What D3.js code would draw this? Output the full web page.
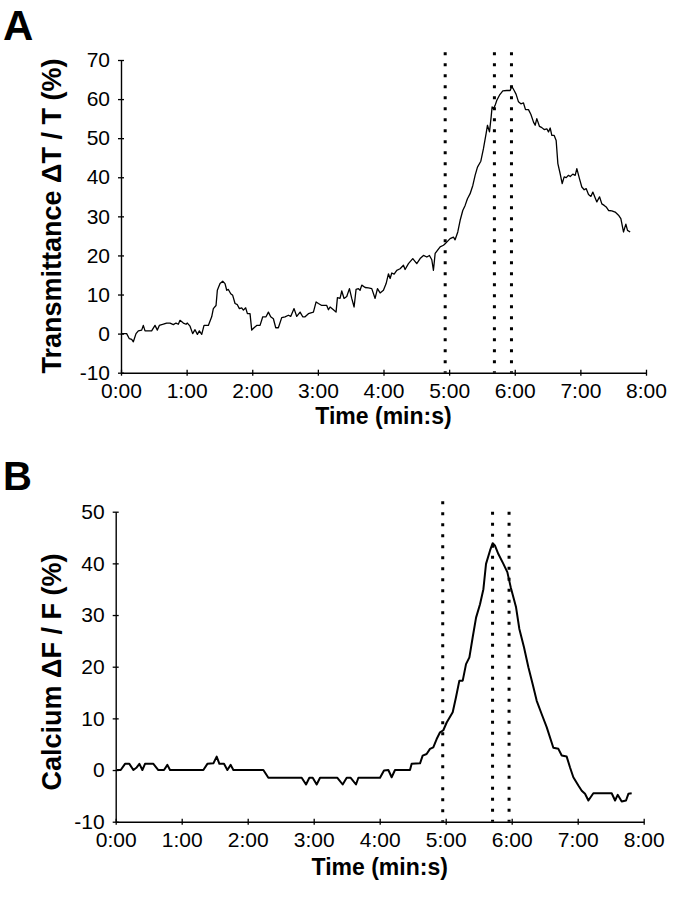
<!DOCTYPE html>
<html><head><meta charset="utf-8">
<script src="https://cdn.jsdelivr.net/npm/d3@7"></script>
<style>
body{margin:0;background:#fff}
svg{display:block}
</style>
</head><body>
<svg id="c" width="677" height="899"></svg>
<script>
// ---------- data ----------
const xTickValues = [0,1,2,3,4,5,6,7,8];
const xTickLabels = ["0:00","1:00","2:00","3:00","4:00","5:00","6:00","7:00","8:00"];
const yTicksA = [-10,0,10,20,30,40,50,60,70];
const yTicksB = [-10,0,10,20,30,40,50];

// Panel A: time (min) and transmittance (%)
const timeA = [0,0.086,0.127,0.163,0.188,0.229,0.264,0.315,0.340,0.366,0.467,0.518,0.554,0.584,0.645,0.696,0.747,0.798,0.838,0.874,0.899,0.950,0.991,1.011,1.052,1.092,1.128,1.164,1.194,1.230,1.265,1.331,1.382,1.407,1.448,1.468,1.509,1.550,1.585,1.611,1.636,1.672,1.702,1.738,1.773,1.804,1.839,1.865,1.900,1.926,1.966,1.992,2.027,2.068,2.119,2.160,2.210,2.246,2.281,2.322,2.358,2.398,2.449,2.500,2.551,2.586,2.637,2.678,2.729,2.769,2.805,2.856,2.932,2.973,3.008,3.059,3.135,3.161,3.186,3.237,3.277,3.298,3.338,3.364,3.399,3.440,3.481,3.516,3.552,3.582,3.618,3.643,3.669,3.720,3.770,3.821,3.872,3.908,
3.948,3.999,4.040,4.075,4.101,4.126,4.162,4.202,4.253,4.304,4.329,4.380,4.446,4.507,4.558,4.609,4.660,4.700,4.736,4.761,4.787,4.822,4.863,4.914,4.939,4.964,5.015,5.066,5.091,5.132,5.168,5.208,5.244,5.279,5.320,5.361,5.396,5.432,5.483,5.523,5.564,5.584,5.615,5.640,5.655,5.676,5.701,5.727,5.767,5.818,5.879,5.930,5.955,5.991,6.021,6.057,6.093,6.133,6.164,6.209,6.245,6.286,6.311,6.336,6.377,6.413,6.448,6.489,6.514,6.540,6.565,6.601,6.631,6.657,6.692,6.723,6.753,6.784,6.819,6.845,6.885,6.921,6.946,6.987,7.022,7.058,7.088,7.124,7.160,7.190,7.226,7.251,7.292,7.327,7.363,7.393,7.429,7.480,7.530,7.581,7.617,7.657,7.693,7.718,7.759];
const transA = [0,0,-1.3,-1.5,-2.1,0,0.7,0.9,2.1,0.7,0.7,2.1,0.9,2.1,2.4,2.7,2.7,2.3,2.7,2.4,3.4,2.7,2.4,2.7,1.9,0,1.0,-0.2,0.7,-0.2,2.1,2.1,4.3,6.4,7.2,11.1,12.8,13.4,12.8,11.1,11.3,10.2,9.8,7.7,7.4,6.4,6.6,6.0,6.6,5.1,5.1,0.9,1.5,2.1,2.1,4.3,4.3,5.5,4.3,3.8,1.5,1.5,4.1,4.3,4.7,4.4,6.4,4.4,5.5,4.3,4.3,5.1,5.5,8.1,7.7,7.2,7.2,6.1,6.8,6.1,5.5,9.2,9.0,10.9,9.0,9.5,11.5,9.0,6.8,11.3,11.5,11.1,12.4,11.8,11.7,11.5,9.0,11.5,
10.4,11.1,12.8,15.3,14.1,15.5,15.2,16.2,16.6,17.5,16.4,17.9,19.2,17.9,19.2,20.0,19.6,20.0,18.9,16.2,20.5,21.3,22.2,22.6,23.0,23.4,24.3,24.7,24.0,26.0,29.0,31.5,32.8,34.5,35.8,37.9,40.5,42.6,44.1,47.3,51.2,53.3,51.6,55.4,58.0,57.5,58.4,59.7,61.0,62.1,62.2,62.2,63.3,62.2,61.2,59.3,58.8,59.0,57.3,57.3,56.1,54.1,53.3,55.0,53.0,52.7,52.2,52.4,51.6,52.6,50.7,50.7,49.4,43.5,40.9,38.4,40.1,39.9,40.5,40.2,40.8,40.5,42.2,39.6,37.5,36.8,37.1,35.6,35.1,36.2,34.7,33.7,35.0,33.2,32.8,32.4,31.5,31.4,31.1,30.3,29.4,26.0,28.0,26.4,26.0];

// Panel B: time (min) and calcium (%)
const timeB = [0.02,0.076,0.141,0.207,0.268,0.318,0.359,0.404,0.444,0.571,0.646,0.732,0.783,0.823,1.328,1.389,1.480,1.530,1.571,1.641,1.692,1.742,1.783,2.237,2.313,2.818,2.884,2.934,2.985,3.045,3.096,3.359,3.439,3.500,3.561,3.641,3.677,4.005,4.065,4.131,4.181,4.232,4.459,4.484,4.611,4.651,4.711,4.762,4.812,4.863,4.914,4.964,5.015,5.106,5.156,5.207,5.258,5.308,5.359,5.409,5.460,5.520,5.571,5.611,5.672,5.712,5.748,5.798,5.874,5.934,5.985,6.066,6.116,6.187,6.253,6.318,6.379,6.455,6.530,6.631,6.707,6.758,6.833,6.884,6.934,7.010,7.061,7.111,7.162,7.237,7.515,7.566,7.606,7.667,7.732,7.768,7.818];
const calciumB = [0,0,1.2,1.2,0,0.5,1.2,0,1.2,1.2,0,0,1.0,0,0,1.2,1.3,2.6,1.2,1.2,0,1.0,0,0,-1.5,-1.5,-2.8,-1.5,-1.5,-2.8,-1.5,-1.5,-2.8,-1.5,-1.5,-2.8,-1.5,-1.5,-0.1,0,-1.4,0,0,1.2,1.3,2.8,3.1,4.1,4.4,6.0,7.3,7.7,9.2,11.2,14.1,17.3,17.3,20.5,21.8,25.7,29.5,32.1,35.0,39.9,42.5,43.9,43.4,41.8,39.9,38.3,35.4,31.5,27.3,23.7,19.9,16.6,13.4,10.8,8.3,4.3,4.1,2.8,2.6,0.5,-1.4,-3.0,-4.0,-4.6,-5.9,-4.5,-4.5,-5.9,-4.8,-6.1,-5.9,-4.6,-4.5];

// dotted marker times (min) and top values
const markersA = [4.94, 5.69, 5.95];
const markerTopA = [72, 72, 72];
const markersB = [4.955, 5.71, 5.96];
const markerTopB = [52, 50, 50];

// ---------- drawing ----------
const FONT = "'Liberation Sans', Arial, Helvetica, sans-serif";
const svg = d3.select("#c");

function panel(cfg) {
  const x = d3.scaleLinear().domain([0, 8]).range([cfg.left, cfg.right]);
  const y = d3.scaleLinear().domain([cfg.ymin, cfg.ymax]).range([cfg.bottom, cfg.top]);
  const g = svg.append("g");

  // y axis
  const ya = g.append("g")
    .attr("transform", `translate(${cfg.left},0)`)
    .call(d3.axisLeft(y).tickValues(cfg.yTicks).tickSize(3).tickSizeOuter(0).tickPadding(8).tickFormat(d => String(d)));
  ya.select(".domain").attr("stroke", "#000").attr("stroke-width", 1.4);
  ya.selectAll(".tick line").attr("x1", 3).attr("stroke", "#000").attr("stroke-width", 1.3);
  ya.selectAll(".tick text").attr("font-family", FONT).attr("font-size", cfg.tickFont).attr("fill", "#000");

  // x axis
  const xa = g.append("g")
    .attr("transform", `translate(0,${cfg.bottom})`)
    .call(d3.axisBottom(x).tickValues(xTickValues).tickSize(3).tickSizeOuter(0).tickPadding(7).tickFormat(i => xTickLabels[i]));
  xa.select(".domain").attr("stroke", "#000").attr("stroke-width", 1.4);
  xa.selectAll(".tick line").attr("y1", -3).attr("stroke", "#000").attr("stroke-width", 1.3);
  xa.selectAll(".tick text").attr("font-family", FONT).attr("font-size", cfg.tickFont).attr("fill", "#000");

  // dotted markers
  g.selectAll("line.marker").data(cfg.markers).enter().append("line")
    .attr("class", "marker")
    .attr("x1", d => x(d)).attr("x2", d => x(d))
    .attr("y1", (d, i) => y(cfg.markerTop[i])).attr("y2", y(cfg.ymin))
    .attr("stroke", "#000").attr("stroke-width", 3)
    .attr("stroke-dasharray", "3,8");

  // trace
  const line = d3.line().x(d => x(d[0])).y(d => y(d[1]));
  g.append("path").datum(d3.zip(cfg.times, cfg.values))
    .attr("d", line).attr("fill", "none").attr("stroke", "#000")
    .attr("stroke-width", cfg.lineWidth).attr("stroke-linejoin", "round");

  // axis titles
  g.append("text").attr("x", (cfg.left + cfg.right) / 2).attr("y", cfg.xTitleY)
    .attr("text-anchor", "middle").attr("font-family", FONT).attr("font-weight", "bold")
    .attr("font-size", 23).text("Time (min:s)");
  g.append("text").attr("transform", `translate(${cfg.yTitleX},${cfg.yTitleY}) rotate(-90)`)
    .attr("text-anchor", "middle").attr("font-family", FONT).attr("font-weight", "bold")
    .attr("font-size", cfg.yTitleFont).text(cfg.yTitle);

  // panel letter
  g.append("text").attr("x", 3).attr("y", cfg.letterY)
    .attr("font-family", FONT).attr("font-weight", "bold").attr("font-size", cfg.letterFont).text(cfg.letter);
}

panel({
  letter: "A", letterY: 40, letterFont: 42,
  left: 121, right: 646, top: 60, bottom: 372.7, ymin: -10, ymax: 70,
  yTicks: yTicksA, tickFont: 21,
  times: timeA, values: transA, lineWidth: 1.3,
  markers: markersA, markerTop: markerTopA,
  xTitleY: 424, yTitle: "Transmittance \u0394T / T (%)", yTitleX: 61, yTitleY: 216, yTitleFont: 27
});
panel({
  letter: "B", letterY: 490, letterFont: 40,
  left: 115.7, right: 643.7, top: 511.7, bottom: 821.7, ymin: -10, ymax: 50,
  yTicks: yTicksB, tickFont: 21,
  times: timeB, values: calciumB, lineWidth: 2,
  markers: markersB, markerTop: markerTopB,
  xTitleY: 875, yTitle: "Calcium \u0394F / F (%)", yTitleX: 61, yTitleY: 672, yTitleFont: 27
});
</script>
</body></html>
